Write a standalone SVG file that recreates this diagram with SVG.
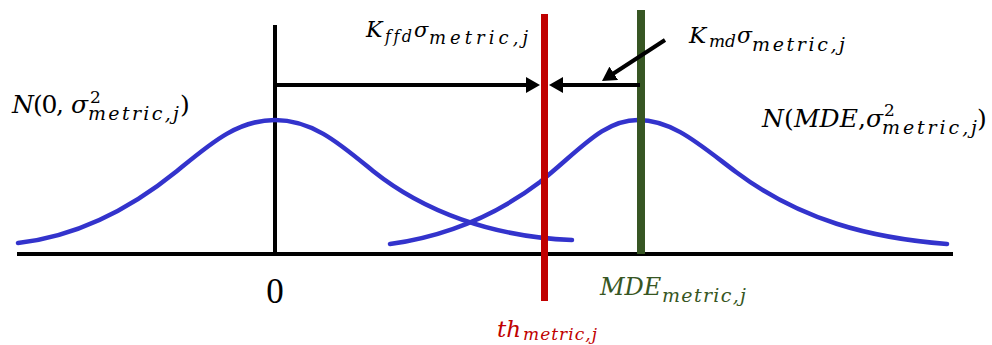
<svg xmlns="http://www.w3.org/2000/svg" width="992" height="345" viewBox="0 0 992 345">
<style>
.it{font-family:"DejaVu Serif","Liberation Serif",serif;font-style:italic;font-variant-ligatures:none}
.up{font-family:"DejaVu Serif","Liberation Serif",serif}
.curve{fill:none;stroke:#3333CC;stroke-width:4.5;stroke-linecap:round}
.blk{stroke:#000;stroke-width:4;fill:none}
</style>
<defs>
<marker id="ah" viewBox="0 0 14 16" refX="4" refY="8" markerWidth="14" markerHeight="16" markerUnits="userSpaceOnUse" orient="auto">
<path d="M0,0 L14,8 L0,16 z" fill="#000"/>
</marker>
</defs>
<rect width="992" height="345" fill="#fff"/>
<g id="axis">
<line class="blk" x1="17" y1="254" x2="953" y2="254"/>
<line class="blk" x1="275" y1="25" x2="275" y2="254"/>
</g>
<g id="curves">
<path class="curve" d="M18,243 C71,237 124,214 177,171 C210,144 237,120 275,120 C313,120 340,144 373,171 C423,211 492,237 572,240"/>
<path class="curve" d="M390,244 C440,237 490,220 540,182 C580,150 603,120 638,120 C673,120 700,145 736,172 C800,220 870,238 947,244"/>
</g>
<g id="threshold">
<line x1="544.5" y1="14" x2="544.5" y2="301" stroke="#C00000" stroke-width="7"/>
</g>
<g id="mde">
<line x1="641" y1="10" x2="641" y2="254" stroke="#375623" stroke-width="8"/>
</g>
<g id="connectors">
<line class="blk" x1="275" y1="85" x2="530" y2="85" marker-end="url(#ah)"/>
<line class="blk" x1="640" y1="85" x2="559" y2="85" marker-end="url(#ah)"/>
<line class="blk" x1="665" y1="40" x2="610.4" y2="75.5" marker-end="url(#ah)"/>
</g>
<g id="label-n0">
<text class="it" x="12" y="113" font-size="25">N</text>
<text class="up" x="33" y="113" font-size="25" textLength="31">(0,</text>
<text class="it" x="71" y="113" font-size="25">σ</text>
<text class="up" x="90" y="103" font-size="17">2</text>
<text class="it" x="88" y="120" font-size="19" textLength="91">metric,j</text>
<text class="up" x="180" y="113" font-size="25">)</text>
</g>
<g id="label-kffd">
<text class="it" x="366" y="37" font-size="22">K</text>
<text class="it" x="385" y="42" font-size="16" textLength="27">ffd</text>
<text class="it" x="414" y="37" font-size="21">σ</text>
<text class="it" x="429" y="44" font-size="18" textLength="99">metric,j</text>
</g>
<g id="label-kmd">
<text class="it" x="689" y="43" font-size="23">K</text>
<text class="it" x="709" y="47" font-size="17">md</text>
<text class="it" x="737" y="43" font-size="22">σ</text>
<text class="it" x="752" y="51" font-size="19" textLength="93">metric,j</text>
</g>
<g id="label-nmde">
<text class="it" x="762" y="127" font-size="25">N</text>
<text class="up" x="784" y="127" font-size="25">(</text>
<text class="it" x="794" y="127" font-size="25">MDE</text>
<text class="up" x="858" y="127" font-size="25">,</text>
<text class="it" x="866" y="127" font-size="25">σ</text>
<text class="up" x="884" y="116" font-size="17">2</text>
<text class="it" x="882" y="134" font-size="19" textLength="95">metric,j</text>
<text class="up" x="977" y="127" font-size="25">)</text>
</g>
<g id="label-zero">
<text x="275" y="303" font-family="Liberation Serif, serif" font-size="35" text-anchor="middle">0</text>
</g>
<g id="label-mde" fill="#375623">
<text class="it" x="600" y="295" font-size="24">MDE</text>
<text class="it" x="662" y="302" font-size="19" textLength="84">metric,j</text>
</g>
<g id="label-th" fill="#C00000">
<text class="it" x="497" y="337" font-size="23">th</text>
<text class="it" x="523" y="340" font-size="17" textLength="74">metric,j</text>
</g>
</svg>
